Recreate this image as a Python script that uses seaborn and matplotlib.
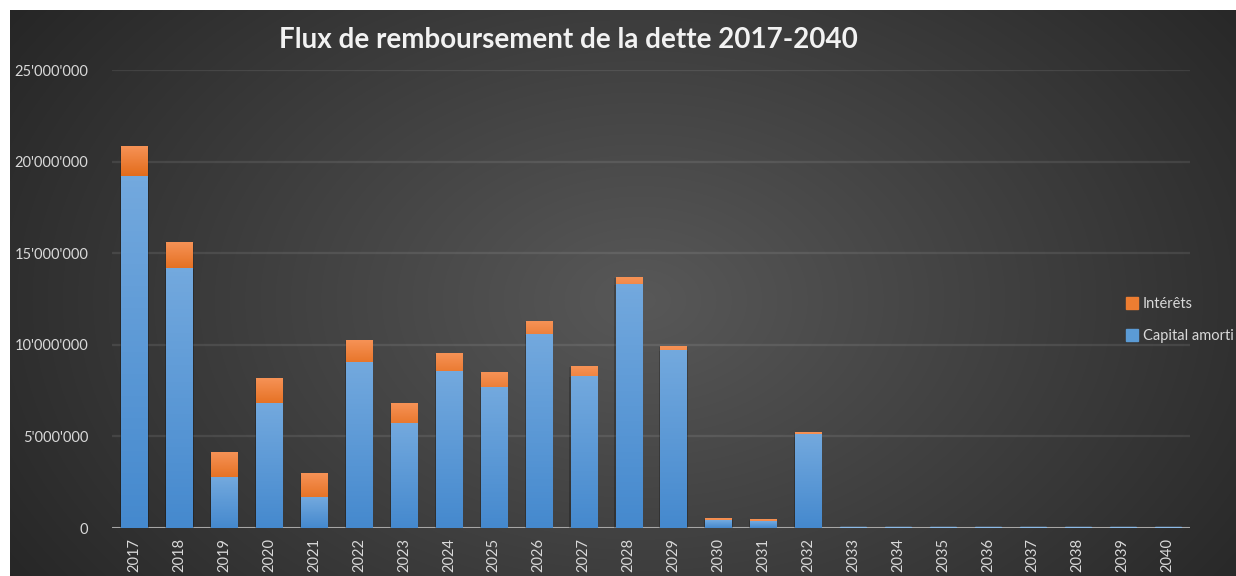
import numpy as np
import pandas as pd
import seaborn as sns
import matplotlib.pyplot as plt
from matplotlib.ticker import FuncFormatter
from matplotlib.colors import to_rgb
from matplotlib.lines import Line2D

# the data (CHF)
years = [str(y) for y in range(2017, 2041)]
capital = [19.16, 14.14, 2.73, 6.82, 1.69, 9.02, 5.69, 8.55, 7.66, 10.55, 8.26, 13.28,
           9.68, 0.42, 0.36, 5.09, 0.07, 0.07, 0.05, 0.05, 0.05, 0.05, 0.05, 0.05]
interets = [1.64, 1.42, 1.36, 1.31, 1.26, 1.20, 1.10, 0.96, 0.82, 0.71, 0.54, 0.38,
            0.22, 0.09, 0.09, 0.10, 0.0, 0.0, 0.0, 0.0, 0.0, 0.0, 0.0, 0.0]

df = pd.DataFrame({'annee': years,
                   'capital': np.array(capital) * 1e6,
                   'interets': np.array(interets) * 1e6})
df['total'] = df['capital'] + df['interets']

sns.set_style('white')
plt.rcParams['font.family'] = ['Lato', 'DejaVu Sans']

fig = plt.figure(figsize=(12.36, 5.76), dpi=100)
fig.patch.set_facecolor('white')

# dark radial background
bg = fig.add_axes([10 / 1236, 0, 1226 / 1236, 566 / 576])
bg.set_axis_off()
yy, xx = np.mgrid[0:566, 0:1226]
d = np.sqrt(((xx - 630) / 760) ** 2 + ((yy - 290) / 520) ** 2)
d = np.clip(d, 0, 1)
c0, c1 = np.array(to_rgb('#585858')), np.array(to_rgb('#262626'))
img = c0[None, None, :] * (1 - d[..., None]) + c1[None, None, :] * d[..., None]
bg.imshow(img, aspect='auto', extent=[0, 1, 0, 1], origin='upper')
bg.set_xlim(0, 1)
bg.set_ylim(0, 1)

ax = fig.add_axes([112 / 1236, 1 - 528 / 576, (1190 - 112) / 1236, (528 - 70) / 576])
ax.patch.set_alpha(0)

orange = '#ED7D31'
blue = '#5B9BD5'
sns.barplot(data=df, x='annee', y='total', color=orange, width=0.58,
            saturation=1, linewidth=0, ax=ax, zorder=5)
sns.barplot(data=df, x='annee', y='capital', color=blue, width=0.58,
            saturation=1, linewidth=0, ax=ax, zorder=5)

# gradient fill and soft shadow on each bar
n = len(years)
grad = np.linspace(0, 1, 64)[:, None]
for i, p in enumerate(ax.patches):
    x, y0, w, h = p.get_x(), p.get_y(), p.get_width(), p.get_height()
    if h <= 0:
        continue
    if i < n:
        if df['interets'].iloc[i] <= 0:
            p.set_visible(False)
            continue
        top, bot = np.array(to_rgb('#F69256')), np.array(to_rgb('#E36C1B'))
        hh = min(h, 1.6e6)
        g = top * (1 - grad[..., None]) + bot * grad[..., None]
        ax.imshow(g, extent=[x, x + w, y0 + h - hh, y0 + h], aspect='auto',
                  zorder=5.1, clip_path=p, clip_on=True)
    else:
        p.set_zorder(5.2)
        if h > 0.2e6:
            top, bot = np.array(to_rgb('#73A9DE')), np.array(to_rgb('#4589CE'))
            g = top * (1 - grad[..., None]) + bot * grad[..., None]
            ax.imshow(g, extent=[x, x + w, y0, y0 + h], aspect='auto',
                      zorder=5.2, clip_path=p, clip_on=True)
        else:
            # tiny bars: keep a visible sliver over the axis line
            p.set_facecolor('#8DBBE8')
            p.set_edgecolor('#8DBBE8')
            p.set_linewidth(1.0)
    if h > 0.2e6:
        ax.bar(x + w / 2, h, bottom=y0, width=w + 0.05,
               color='black', alpha=0.12, lw=0, zorder=4.9)

ax.set_xlim(-0.5, n - 0.5)
ax.set_ylim(0, 25e6)
ax.set_yticks(np.arange(0, 25e6 + 1, 5e6))
ax.yaxis.set_major_formatter(FuncFormatter(lambda v, _: f'{int(v):,}'.replace(',', "'")))
ax.grid(axis='y', color='#ffffff', alpha=0.09, lw=1.6, zorder=0)
ax.axhline(0, color='#a6a6a6', lw=2.2, zorder=4)
for s in ax.spines.values():
    s.set_visible(False)
ax.tick_params(axis='y', length=0, pad=17, labelsize=10.5, labelcolor='#d9d9d9')
ax.tick_params(axis='x', length=0, pad=7, labelsize=10.5, labelcolor='#d9d9d9',
               labelrotation=90)
ax.set_xlabel('')
ax.set_ylabel('')

fig.text(568 / 1236, 1 - 40 / 576, 'Flux de remboursement de la dette 2017-2040',
         ha='center', va='center', color='#f2f2f2', fontsize=20,
         fontweight='bold', family=['Lato', 'DejaVu Sans'])

handles = [Line2D([], [], marker='s', ls='', color=orange, markersize=8),
           Line2D([], [], marker='s', ls='', color=blue, markersize=8)]
fig.legend(handles, ['Intérêts', 'Capital amorti'], loc='center left',
           bbox_to_anchor=(1112 / 1236, 1 - 320 / 576), frameon=False,
           labelcolor='#d9d9d9', fontsize=10.5, handletextpad=0.2,
           labelspacing=1.2, handlelength=1.0)

fig.savefig('out.png', dpi=100, facecolor=fig.get_facecolor())
